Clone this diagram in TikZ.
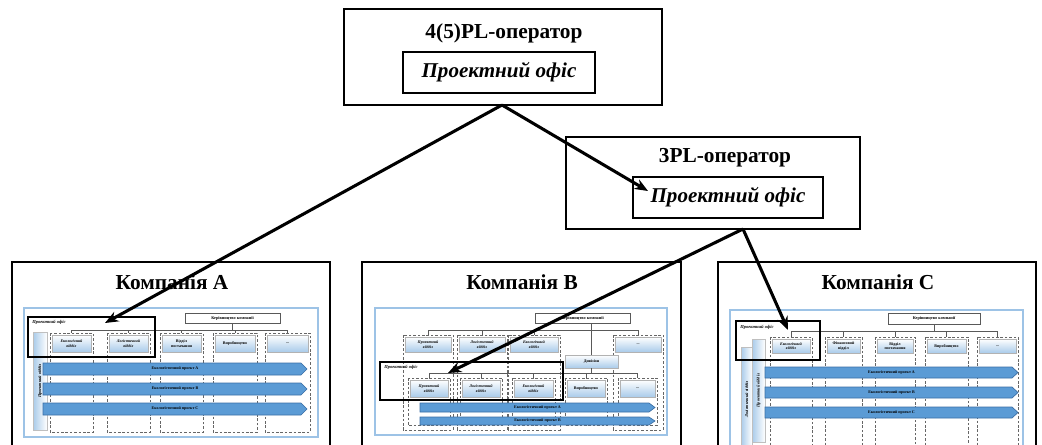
\documentclass[tikz,border=0pt]{standalone}
\usepackage{fontspec}
\setmainfont{Liberation Serif}
\usetikzlibrary{arrows.meta}
\definecolor{hdrblue}{HTML}{A9CBEA}
\definecolor{framblue}{HTML}{9DC3E6}
\definecolor{arrfill}{HTML}{5B9BD5}
\definecolor{arrdraw}{HTML}{3A6EA5}
\tikzset{
  opbox/.style={draw, line width=1.4pt, inner sep=0pt},
  pobox/.style={draw, line width=1.2pt, inner sep=0pt, font=\fontsize{15.8}{17}\selectfont\bfseries\itshape},
  optitle/.style={font=\fontsize{16}{18}\selectfont\bfseries, inner sep=0pt},
  ctitle/.style={font=\fontsize{16}{18}\selectfont\bfseries, inner sep=0pt},
  cframe/.style={draw, line width=1.4pt},
  iframe/.style={draw=framblue, line width=1.1pt},
  dcol/.style={draw=gray!80!black, line width=0.5pt, dash pattern=on 2pt off 1.3pt},
  orgline/.style={draw=gray!70!black, line width=0.4pt},
  hdrnode/.style={draw=gray!60, line width=0.3pt, top color=white, bottom color=hdrblue, inner sep=0pt, align=center},
  tinyt/.style={font=\fontsize{3}{3.4}\selectfont\bfseries, inner sep=0pt, align=center},
  kbox/.style={draw=gray!70!black, fill=white, line width=0.4pt, inner sep=0pt, font=\fontsize{3.2}{3.6}\selectfont\bfseries},
  pofbox/.style={draw=black, line width=0.9pt},
  poflabel/.style={font=\fontsize{3.4}{3.8}\selectfont\bfseries\itshape, inner sep=0pt, anchor=west},
  projarr/.style={draw=arrdraw, line width=0.5pt, fill=arrfill},
  vbar/.style={draw=gray!50, line width=0.3pt, left color=hdrblue, right color=white, inner sep=0pt, rotate=90, font=\fontsize{3.2}{3.6}\selectfont\bfseries\itshape},
  bigconn/.style={line width=2.3pt, -{Stealth[length=10pt,width=8pt]}},
}
\newcommand\mkhdr[7]{\node[hdrnode, minimum width={(#3-#2)*0.75pt}, minimum height={(#5-#4)*0.75pt}, font=\fontsize{3}{3.4}\selectfont\bfseries#7] (#1) at ({(#2+#3)/2},{(#4+#5)/2}) {#6};}
\newcommand\mkarr[6]{\draw[projarr] (#2,#4) -- ({#3-6},#4) -- (#3,{(#4+#5)/2}) -- ({#3-6},#5) -- (#2,#5) -- cycle;
  \node[tinyt] (#1) at ({(#2+#3)/2},{(#4+#5)/2}) {#6};}
\newcommand\mkvbar[6]{\node[vbar, minimum width={(#5-#4)*0.75pt}, minimum height={(#3-#2)*0.75pt}] (#1) at ({(#2+#3)/2},{(#4+#5)/2}) {#6};}
\newcommand\mkkbox[6]{\node[kbox, minimum width={(#3-#2)*0.75pt}, minimum height={(#5-#4)*0.75pt}] (#1) at ({(#2+#3)/2},{(#4+#5)/2}) {#6};}
\begin{document}
\begin{tikzpicture}[x=0.75pt,y=-0.75pt]
\useasboundingbox (0,0) rectangle (1042,445);
\fill[white] (0,0) rectangle (1042,445);

% ---------- operators ----------
\node[opbox, minimum width=318*0.75pt, minimum height=96*0.75pt] (op4) at (503,57) {};
\node[optitle] (op4t) at (504,33) {4(5)PL-оператор};
\node[pobox, minimum width=192*0.75pt, minimum height=41*0.75pt] (op4po) at (499,72.5) {Проектний офіс};

\node[opbox, minimum width=294*0.75pt, minimum height=92*0.75pt] (op3) at (713,183) {};
\node[optitle] (op3t) at (725,158) {3PL-оператор};
\node[pobox, minimum width=190*0.75pt, minimum height=41*0.75pt] (op3po) at (728,197.5) {Проектний офіс};

% ---------- Company A ----------
\draw[cframe] (12,262) rectangle (330,452);
\node[ctitle] (tA) at (172,282) {Компанія A};
\draw[iframe] (24,308) rectangle (318,437);
\foreach \a/\b in {50/93,107/150,160/203,213/257,265/310}{\draw[dcol] (\a,333) rectangle (\b,432);}
\mkkbox{kA}{185}{280}{313}{323}{Керівництво компанії}
\draw[orgline] (kA.south) -- (232.5,330);
\draw[orgline] (71.5,333) -- (71.5,330) -- (287.5,330) -- (287.5,333);
\foreach \c in {128.5,181.5,235}{\draw[orgline] (\c,330) -- (\c,333);}
\mkhdr{hA1}{52}{91}{335}{352}{Екологічний\\відділ}{\itshape}
\mkhdr{hA2}{109}{148}{335}{352}{Логістичний\\відділ}{\itshape}
\mkhdr{hA3}{162}{201}{335}{352}{Відділ\\постачання}{}
\mkhdr{hA4}{215}{255}{335}{352}{Виробництво}{}
\mkhdr{hA5}{267}{308}{335}{352}{...}{}
\mkvbar{vA}{33}{47}{332}{430}{Проектний відділ}
\mkarr{pA1}{43}{307}{363}{375}{Екологістичний проект А}
\mkarr{pA2}{43}{307}{383}{395}{Екологістичний проект В}
\mkarr{pA3}{43}{307}{403}{415}{Екологістичний проект С}
\draw[pofbox] (28,317) rectangle (155,357);
\node[poflabel] (poA) at (32,322) {Проектний офіс};

% ---------- Company B ----------
\draw[cframe] (362,262) rectangle (681,452);
\node[ctitle] (tB) at (522,282) {Компанія B};
\draw[iframe] (375,308) rectangle (667,435);
\foreach \a/\b in {403/453,457/507,508/560,613/663}{\draw[dcol] (\a,335) rectangle (\b,430);}
\foreach \a/\b in {408/450,460/502,512/555,565/607,618/657}{\draw[dcol] (\a,378) rectangle (\b,425);}
\mkkbox{kB}{535}{630}{313}{323}{Керівництво компанії}
\draw[orgline] (428,335) -- (428,330) -- (638,330) -- (638,335);
\foreach \c in {482,534}{\draw[orgline] (\c,330) -- (\c,335);}
\mkhdr{hB1}{405}{451}{337}{352}{Проектний\\відділ}{\itshape}
\mkhdr{hB2}{459}{505}{337}{352}{Логістичний\\відділ}{\itshape}
\mkhdr{hB3}{510}{558}{337}{352}{Екологічний\\відділ}{\itshape}
\mkhdr{hB4}{615}{661}{337}{352}{...}{}
\mkhdr{dB}{565}{618}{355}{368}{Дивізіон}{}
\draw[orgline] (kB.south -| dB.north) -- (dB.north);
\draw[orgline] (dB.south) -- (591.5,373);
\draw[orgline] (429,378) -- (429,373) -- (637.5,373) -- (637.5,378);
\foreach \c in {481,533.5,586}{\draw[orgline] (\c,373) -- (\c,378);}
\mkhdr{sB1}{410}{448}{380}{397}{Проектний\\відділ}{\itshape}
\mkhdr{sB2}{462}{500}{380}{397}{Логістичний\\відділ}{\itshape}
\mkhdr{sB3}{514}{553}{380}{397}{Екологічний\\відділ}{\itshape}
\mkhdr{sB4}{567}{605}{380}{397}{Виробництво}{}
\mkhdr{sB5}{620}{655}{380}{397}{...}{}
\mkarr{pB1}{420}{655}{403}{412}{Екологістичний проект А}
\mkarr{pB2}{420}{655}{417}{425}{Екологістичний проект В}
\draw[pofbox] (380,362) rectangle (563,400);
\node[poflabel] (poB) at (384,367) {Проектний офіс};

% ---------- Company C ----------
\draw[cframe] (718,262) rectangle (1036,452);
\node[ctitle] (tC) at (878,282) {Компанія C};
\draw[iframe] (730,310) rectangle (1023,452);
\foreach \a/\b in {770/812,825/862,875/915,925/968,977/1018}{\draw[dcol] (\a,337) rectangle (\b,452);}
\mkkbox{kC}{888}{980}{313}{324}{Керівництво компанії}
\draw[orgline] (kC.south) -- (934,331);
\draw[orgline] (791,337) -- (791,331) -- (997.5,331) -- (997.5,337);
\foreach \c in {843.5,895,946.5}{\draw[orgline] (\c,331) -- (\c,337);}
\mkhdr{hC1}{772}{810}{339}{353}{Екологічний\\відділ}{\itshape}
\mkhdr{hC2}{827}{860}{339}{353}{Фінансовий\\відділ}{}
\mkhdr{hC3}{877}{913}{339}{353}{Відділ\\постачання}{}
\mkhdr{hC4}{927}{966}{339}{353}{Виробництво}{}
\mkhdr{hC5}{979}{1016}{339}{353}{...}{}
\mkvbar{vC1}{741}{752}{347}{452}{Логістичний відділ}
\mkvbar{vC2}{752}{765}{339}{442}{Проектний відділ}
\mkarr{pC1}{765}{1018}{367}{378}{Екологістичний проект А}
\mkarr{pC2}{765}{1018}{387}{398}{Екологістичний проект В}
\mkarr{pC3}{765}{1018}{407}{418}{Екологістичний проект С}
\draw[pofbox] (736,321) rectangle (820,360);
\node[poflabel] (poC) at (740,327) {Проектний офіс};

% ---------- connectors ----------
\coordinate (ap4) at (502,105);
\coordinate (ap3) at (743,229);
\coordinate (tgA) at (105,323);
\coordinate (tg3) at (648,191);
\coordinate (tgB) at (448,373);
\coordinate (tgC) at (788,330);
\draw[bigconn] (ap4) -- (tgA);
\draw[bigconn] (ap4) -- (tg3);
\draw[bigconn] (ap3) -- (tgB);
\draw[bigconn] (ap3) -- (tgC);
\end{tikzpicture}
\end{document}
